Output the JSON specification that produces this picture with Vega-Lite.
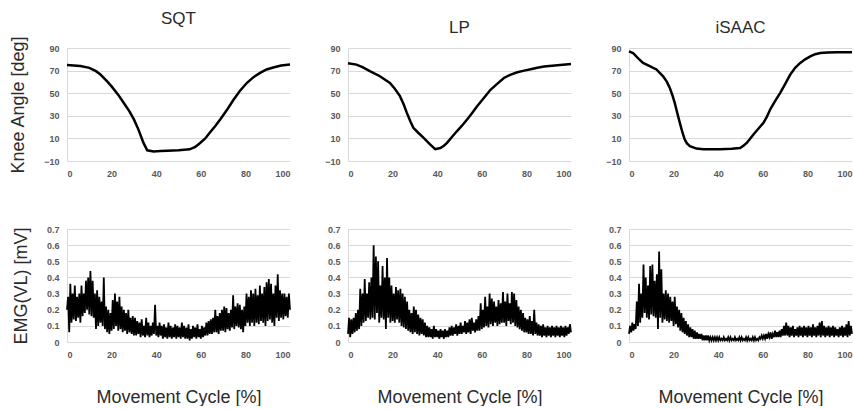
{
"$schema":"https://vega.github.io/schema/vega-lite/v6.json",
"padding":{"left":9,"top":10,"right":0,"bottom":0},
"background":"white",
"config":{
 "view":{"stroke":null},
 "axis":{"labelFont":"Liberation Sans","labelFontWeight":"bold","labelFontSize":9,"labelColor":"#595959","ticks":false,"gridColor":"#d9d9d9","gridWidth":1,"domain":false,"titleFont":"Liberation Sans","titleFontWeight":"normal","titleFontSize":18,"titleColor":"#2b2b2b"},
 "axisY":{"domain":true,"domainColor":"#d9d9d9","labelPadding":8,"titlePadding":16},
 "axisX":{"grid":false,"labelPadding":8,"titlePadding":29},
 "title":{"font":"Liberation Sans","fontSize":17,"fontWeight":"normal","color":"#2b2b2b","offset":7,"anchor":"middle"}
},
"datasets":{
"sqt_k":[{"x":0,"y":75},{"x":3,"y":74.5},{"x":6,"y":74},{"x":10,"y":72.4},{"x":13,"y":69.5},{"x":15,"y":66.5},{"x":18,"y":60.5},{"x":20,"y":56},{"x":23,"y":48.5},{"x":25.4,"y":41.5},{"x":28,"y":34},{"x":30,"y":26.8},{"x":32,"y":18},{"x":34.3,"y":6},{"x":36,"y":-0.5},{"x":38.8,"y":-1.5},{"x":42,"y":-1.2},{"x":45,"y":-1},{"x":50,"y":-0.5},{"x":55,"y":0.3},{"x":57.5,"y":2.5},{"x":59.7,"y":6},{"x":62,"y":10},{"x":64,"y":15},{"x":66.5,"y":21},{"x":68.7,"y":26.8},{"x":72,"y":36},{"x":74.6,"y":44},{"x":77.5,"y":52},{"x":80.6,"y":59},{"x":83.5,"y":64},{"x":86.6,"y":68},{"x":89.5,"y":71},{"x":92.5,"y":72.8},{"x":96,"y":74.5},{"x":100,"y":75.5}],
"lp_k":[{"x":0,"y":76.5},{"x":3.8,"y":75.3},{"x":6.5,"y":73},{"x":9.8,"y":69.5},{"x":14.3,"y":65},{"x":18.8,"y":59},{"x":21,"y":54},{"x":23.3,"y":47.4},{"x":25,"y":40},{"x":26.3,"y":33},{"x":28,"y":25},{"x":29.3,"y":19.4},{"x":31.5,"y":15},{"x":33.8,"y":10.6},{"x":36.8,"y":4.7},{"x":39.1,"y":0.5},{"x":41.4,"y":1.5},{"x":43,"y":3.5},{"x":44.4,"y":6},{"x":46.5,"y":11},{"x":48.9,"y":16.5},{"x":51,"y":21},{"x":53.4,"y":26.8},{"x":55.5,"y":32},{"x":57.9,"y":38.5},{"x":61,"y":46},{"x":63.9,"y":53},{"x":67,"y":58.5},{"x":69.9,"y":63.5},{"x":73,"y":66.5},{"x":75.9,"y":68.5},{"x":79,"y":70},{"x":81.9,"y":71.2},{"x":84.9,"y":72.5},{"x":87.9,"y":73.6},{"x":93.9,"y":74.8},{"x":100,"y":75.8}],
"is_k":[{"x":0,"y":87},{"x":1.8,"y":85.6},{"x":4,"y":81},{"x":6.3,"y":76.8},{"x":9.3,"y":74},{"x":12.3,"y":71},{"x":15.3,"y":65},{"x":17,"y":60},{"x":18.3,"y":54.7},{"x":19.5,"y":48},{"x":20.5,"y":41.5},{"x":21.7,"y":32},{"x":22.8,"y":23.8},{"x":24,"y":15},{"x":25,"y":9},{"x":26,"y":5.5},{"x":27.3,"y":3.2},{"x":30.3,"y":1},{"x":33.3,"y":0.3},{"x":40.8,"y":0.3},{"x":46,"y":0.8},{"x":49.8,"y":1.5},{"x":51.3,"y":3.5},{"x":52.8,"y":6},{"x":55.8,"y":13.5},{"x":58,"y":18.5},{"x":60.3,"y":23.8},{"x":61.8,"y":29},{"x":63.3,"y":35.6},{"x":65.5,"y":43},{"x":67.8,"y":50.3},{"x":70,"y":58},{"x":72.3,"y":66.5},{"x":74.5,"y":72.5},{"x":76.8,"y":76.8},{"x":79,"y":80},{"x":81.3,"y":82.6},{"x":83.5,"y":84.5},{"x":85.8,"y":85.6},{"x":89,"y":86},{"x":93.3,"y":86.2},{"x":100,"y":86.2}],
"sqt_e":[{"x":0,"y":0.2},{"x":0.5,"y":0.28},{"x":1,"y":0.06},{"x":1.5,"y":0.36},{"x":2,"y":0.12},{"x":2.5,"y":0.3},{"x":3,"y":0.14},{"x":3.5,"y":0.35},{"x":4,"y":0.13},{"x":4.5,"y":0.28},{"x":5,"y":0.15},{"x":5.5,"y":0.3},{"x":6,"y":0.12},{"x":6.5,"y":0.35},{"x":7,"y":0.16},{"x":7.5,"y":0.3},{"x":8,"y":0.18},{"x":8.5,"y":0.38},{"x":9,"y":0.2},{"x":9.5,"y":0.4},{"x":10,"y":0.17},
{"x":10.5,"y":0.44},{"x":11,"y":0.16},{"x":11.5,"y":0.38},{"x":12,"y":0.15},{"x":12.5,"y":0.3},{"x":13,"y":0.08},{"x":13.5,"y":0.32},{"x":14,"y":0.1},{"x":14.5,"y":0.28},{"x":15,"y":0.12},{"x":15.5,"y":0.25},{"x":16,"y":0.1},{"x":16.5,"y":0.4},{"x":17,"y":0.08},{"x":17.5,"y":0.22},{"x":18,"y":0.06},{"x":18.5,"y":0.2},{"x":19,"y":0.05},{"x":19.5,"y":0.18},{"x":20,"y":0.07},
{"x":20.5,"y":0.26},{"x":21,"y":0.08},{"x":21.5,"y":0.3},{"x":22,"y":0.1},{"x":22.5,"y":0.25},{"x":23,"y":0.07},{"x":23.5,"y":0.28},{"x":24,"y":0.08},{"x":24.5,"y":0.22},{"x":25,"y":0.06},{"x":25.5,"y":0.2},{"x":26,"y":0.07},{"x":26.5,"y":0.18},{"x":27,"y":0.05},{"x":27.5,"y":0.2},{"x":28,"y":0.06},{"x":28.5,"y":0.15},{"x":29,"y":0.05},{"x":29.5,"y":0.16},{"x":30,"y":0.04},
{"x":30.5,"y":0.15},{"x":31,"y":0.04},{"x":31.5,"y":0.13},{"x":32,"y":0.05},{"x":32.5,"y":0.12},{"x":33,"y":0.03},{"x":33.5,"y":0.14},{"x":34,"y":0.04},{"x":34.5,"y":0.1},{"x":35,"y":0.03},{"x":35.5,"y":0.15},{"x":36,"y":0.04},{"x":36.5,"y":0.12},{"x":37,"y":0.03},{"x":37.5,"y":0.1},{"x":38,"y":0.04},{"x":38.5,"y":0.12},{"x":39,"y":0.05},{"x":39.5,"y":0.23},{"x":40,"y":0.04},
{"x":40.5,"y":0.1},{"x":41,"y":0.03},{"x":41.5,"y":0.12},{"x":42,"y":0.04},{"x":42.5,"y":0.1},{"x":43,"y":0.02},{"x":43.5,"y":0.11},{"x":44,"y":0.03},{"x":44.5,"y":0.09},{"x":45,"y":0.02},{"x":45.5,"y":0.12},{"x":46,"y":0.03},{"x":46.5,"y":0.1},{"x":47,"y":0.02},{"x":47.5,"y":0.09},{"x":48,"y":0.03},{"x":48.5,"y":0.11},{"x":49,"y":0.02},{"x":49.5,"y":0.1},{"x":50,"y":0.03},
{"x":50.5,"y":0.09},{"x":51,"y":0.02},{"x":51.5,"y":0.12},{"x":52,"y":0.03},{"x":52.5,"y":0.1},{"x":53,"y":0.02},{"x":53.5,"y":0.09},{"x":54,"y":0.02},{"x":54.5,"y":0.11},{"x":55,"y":0.01},{"x":55.5,"y":0.08},{"x":56,"y":0.02},{"x":56.5,"y":0.1},{"x":57,"y":0.03},{"x":57.5,"y":0.09},{"x":58,"y":0.02},{"x":58.5,"y":0.11},{"x":59,"y":0.03},{"x":59.5,"y":0.08},{"x":60,"y":0.02},
{"x":60.5,"y":0.1},{"x":61,"y":0.03},{"x":61.5,"y":0.09},{"x":62,"y":0.04},{"x":62.5,"y":0.12},{"x":63,"y":0.04},{"x":63.5,"y":0.13},{"x":64,"y":0.05},{"x":64.5,"y":0.14},{"x":65,"y":0.05},{"x":65.5,"y":0.15},{"x":66,"y":0.06},{"x":66.5,"y":0.2},{"x":67,"y":0.06},{"x":67.5,"y":0.16},{"x":68,"y":0.05},{"x":68.5,"y":0.18},{"x":69,"y":0.07},{"x":69.5,"y":0.2},{"x":70,"y":0.07},
{"x":70.5,"y":0.22},{"x":71,"y":0.06},{"x":71.5,"y":0.21},{"x":72,"y":0.08},{"x":72.5,"y":0.18},{"x":73,"y":0.07},{"x":73.5,"y":0.2},{"x":74,"y":0.09},{"x":74.5,"y":0.29},{"x":75,"y":0.08},{"x":75.5,"y":0.22},{"x":76,"y":0.1},{"x":76.5,"y":0.24},{"x":77,"y":0.09},{"x":77.5,"y":0.23},{"x":78,"y":0.08},{"x":78.5,"y":0.2},{"x":79,"y":0.06},{"x":79.5,"y":0.22},{"x":80,"y":0.1},
{"x":80.5,"y":0.3},{"x":81,"y":0.12},{"x":81.5,"y":0.28},{"x":82,"y":0.1},{"x":82.5,"y":0.32},{"x":83,"y":0.12},{"x":83.5,"y":0.3},{"x":84,"y":0.1},{"x":84.5,"y":0.33},{"x":85,"y":0.12},{"x":85.5,"y":0.29},{"x":86,"y":0.11},{"x":86.5,"y":0.35},{"x":87,"y":0.13},{"x":87.5,"y":0.3},{"x":88,"y":0.12},{"x":88.5,"y":0.34},{"x":89,"y":0.1},{"x":89.5,"y":0.37},{"x":90,"y":0.13},
{"x":90.5,"y":0.39},{"x":91,"y":0.14},{"x":91.5,"y":0.36},{"x":92,"y":0.12},{"x":92.5,"y":0.3},{"x":93,"y":0.1},{"x":93.5,"y":0.35},{"x":94,"y":0.15},{"x":94.5,"y":0.42},{"x":95,"y":0.13},{"x":95.5,"y":0.32},{"x":96,"y":0.15},{"x":96.5,"y":0.3},{"x":97,"y":0.14},{"x":97.5,"y":0.3},{"x":98,"y":0.16},{"x":98.5,"y":0.28},{"x":99,"y":0.15},{"x":99.5,"y":0.3},{"x":100,"y":0.2}],
"lp_e":[{"x":0,"y":0.05},{"x":0.5,"y":0.15},{"x":1,"y":0.03},{"x":1.5,"y":0.14},{"x":2,"y":0.05},{"x":2.5,"y":0.15},{"x":3,"y":0.06},{"x":3.5,"y":0.18},{"x":4,"y":0.07},{"x":4.5,"y":0.2},{"x":5,"y":0.08},{"x":5.5,"y":0.33},{"x":6,"y":0.1},{"x":6.5,"y":0.3},{"x":7,"y":0.12},{"x":7.5,"y":0.39},{"x":8,"y":0.13},{"x":8.5,"y":0.3},{"x":9,"y":0.15},{"x":9.5,"y":0.37},{"x":10,"y":0.14},
{"x":10.5,"y":0.4},{"x":11,"y":0.15},{"x":11.5,"y":0.6},{"x":12,"y":0.14},{"x":12.5,"y":0.53},{"x":13,"y":0.18},{"x":13.5,"y":0.5},{"x":14,"y":0.12},{"x":14.5,"y":0.35},{"x":15,"y":0.15},{"x":15.5,"y":0.47},{"x":16,"y":0.14},{"x":16.5,"y":0.4},{"x":17,"y":0.08},{"x":17.5,"y":0.52},{"x":18,"y":0.15},{"x":18.5,"y":0.4},{"x":19,"y":0.12},{"x":19.5,"y":0.35},{"x":20,"y":0.13},
{"x":20.5,"y":0.3},{"x":21,"y":0.12},{"x":21.5,"y":0.34},{"x":22,"y":0.14},{"x":22.5,"y":0.32},{"x":23,"y":0.12},{"x":23.5,"y":0.33},{"x":24,"y":0.1},{"x":24.5,"y":0.3},{"x":25,"y":0.09},{"x":25.5,"y":0.28},{"x":26,"y":0.08},{"x":26.5,"y":0.25},{"x":27,"y":0.07},{"x":27.5,"y":0.2},{"x":28,"y":0.06},{"x":28.5,"y":0.18},{"x":29,"y":0.05},{"x":29.5,"y":0.22},{"x":30,"y":0.06},
{"x":30.5,"y":0.2},{"x":31,"y":0.05},{"x":31.5,"y":0.17},{"x":32,"y":0.04},{"x":32.5,"y":0.15},{"x":33,"y":0.05},{"x":33.5,"y":0.14},{"x":34,"y":0.04},{"x":34.5,"y":0.12},{"x":35,"y":0.03},{"x":35.5,"y":0.1},{"x":36,"y":0.03},{"x":36.5,"y":0.09},{"x":37,"y":0.03},{"x":37.5,"y":0.08},{"x":38,"y":0.02},{"x":38.5,"y":0.1},{"x":39,"y":0.03},{"x":39.5,"y":0.08},{"x":40,"y":0.03},
{"x":40.5,"y":0.07},{"x":41,"y":0.02},{"x":41.5,"y":0.08},{"x":42,"y":0.03},{"x":42.5,"y":0.07},{"x":43,"y":0.02},{"x":43.5,"y":0.08},{"x":44,"y":0.03},{"x":44.5,"y":0.07},{"x":45,"y":0.03},{"x":45.5,"y":0.09},{"x":46,"y":0.04},{"x":46.5,"y":0.1},{"x":47,"y":0.04},{"x":47.5,"y":0.09},{"x":48,"y":0.05},{"x":48.5,"y":0.11},{"x":49,"y":0.04},{"x":49.5,"y":0.1},{"x":50,"y":0.05},
{"x":50.5,"y":0.12},{"x":51,"y":0.05},{"x":51.5,"y":0.1},{"x":52,"y":0.06},{"x":52.5,"y":0.13},{"x":53,"y":0.05},{"x":53.5,"y":0.12},{"x":54,"y":0.06},{"x":54.5,"y":0.14},{"x":55,"y":0.05},{"x":55.5,"y":0.15},{"x":56,"y":0.07},{"x":56.5,"y":0.12},{"x":57,"y":0.06},{"x":57.5,"y":0.14},{"x":58,"y":0.07},{"x":58.5,"y":0.16},{"x":59,"y":0.07},{"x":59.5,"y":0.24},{"x":60,"y":0.08},
{"x":60.5,"y":0.2},{"x":61,"y":0.09},{"x":61.5,"y":0.28},{"x":62,"y":0.1},{"x":62.5,"y":0.22},{"x":63,"y":0.09},{"x":63.5,"y":0.3},{"x":64,"y":0.11},{"x":64.5,"y":0.27},{"x":65,"y":0.1},{"x":65.5,"y":0.25},{"x":66,"y":0.12},{"x":66.5,"y":0.22},{"x":67,"y":0.1},{"x":67.5,"y":0.26},{"x":68,"y":0.11},{"x":68.5,"y":0.24},{"x":69,"y":0.12},{"x":69.5,"y":0.31},{"x":70,"y":0.12},
{"x":70.5,"y":0.25},{"x":71,"y":0.1},{"x":71.5,"y":0.3},{"x":72,"y":0.13},{"x":72.5,"y":0.24},{"x":73,"y":0.11},{"x":73.5,"y":0.31},{"x":74,"y":0.12},{"x":74.5,"y":0.3},{"x":75,"y":0.1},{"x":75.5,"y":0.26},{"x":76,"y":0.09},{"x":76.5,"y":0.22},{"x":77,"y":0.08},{"x":77.5,"y":0.2},{"x":78,"y":0.07},{"x":78.5,"y":0.18},{"x":79,"y":0.06},{"x":79.5,"y":0.15},{"x":80,"y":0.06},
{"x":80.5,"y":0.14},{"x":81,"y":0.05},{"x":81.5,"y":0.16},{"x":82,"y":0.05},{"x":82.5,"y":0.13},{"x":83,"y":0.04},{"x":83.5,"y":0.2},{"x":84,"y":0.05},{"x":84.5,"y":0.12},{"x":85,"y":0.04},{"x":85.5,"y":0.11},{"x":86,"y":0.04},{"x":86.5,"y":0.1},{"x":87,"y":0.03},{"x":87.5,"y":0.11},{"x":88,"y":0.04},{"x":88.5,"y":0.09},{"x":89,"y":0.03},{"x":89.5,"y":0.1},{"x":90,"y":0.04},
{"x":90.5,"y":0.09},{"x":91,"y":0.03},{"x":91.5,"y":0.1},{"x":92,"y":0.04},{"x":92.5,"y":0.09},{"x":93,"y":0.03},{"x":93.5,"y":0.1},{"x":94,"y":0.04},{"x":94.5,"y":0.09},{"x":95,"y":0.03},{"x":95.5,"y":0.1},{"x":96,"y":0.04},{"x":96.5,"y":0.09},{"x":97,"y":0.03},{"x":97.5,"y":0.1},{"x":98,"y":0.04},{"x":98.5,"y":0.09},{"x":99,"y":0.05},{"x":99.5,"y":0.11},{"x":100,"y":0.06}],
"is_e":[{"x":0,"y":0.05},{"x":0.5,"y":0.1},{"x":1,"y":0.06},{"x":1.5,"y":0.12},{"x":2,"y":0.07},{"x":2.5,"y":0.11},{"x":3,"y":0.08},{"x":3.5,"y":0.25},{"x":4,"y":0.1},{"x":4.5,"y":0.36},{"x":5,"y":0.12},{"x":5.5,"y":0.3},{"x":6,"y":0.15},{"x":6.5,"y":0.48},{"x":7,"y":0.18},{"x":7.5,"y":0.4},{"x":8,"y":0.15},{"x":8.5,"y":0.35},{"x":9,"y":0.14},{"x":9.5,"y":0.47},{"x":10,"y":0.17},
{"x":10.5,"y":0.48},{"x":11,"y":0.16},{"x":11.5,"y":0.38},{"x":12,"y":0.15},{"x":12.5,"y":0.42},{"x":13,"y":0.08},{"x":13.5,"y":0.56},{"x":14,"y":0.15},{"x":14.5,"y":0.45},{"x":15,"y":0.12},{"x":15.5,"y":0.3},{"x":16,"y":0.14},{"x":16.5,"y":0.32},{"x":17,"y":0.13},{"x":17.5,"y":0.3},{"x":18,"y":0.12},{"x":18.5,"y":0.28},{"x":19,"y":0.13},{"x":19.5,"y":0.25},{"x":20,"y":0.1},
{"x":20.5,"y":0.28},{"x":21,"y":0.11},{"x":21.5,"y":0.22},{"x":22,"y":0.09},{"x":22.5,"y":0.2},{"x":23,"y":0.07},{"x":23.5,"y":0.18},{"x":24,"y":0.06},{"x":24.5,"y":0.15},{"x":25,"y":0.05},{"x":25.5,"y":0.13},{"x":26,"y":0.04},{"x":26.5,"y":0.11},{"x":27,"y":0.03},{"x":27.5,"y":0.09},{"x":28,"y":0.03},{"x":28.5,"y":0.08},{"x":29,"y":0.02},{"x":29.5,"y":0.07},{"x":30,"y":0.02},
{"x":30.5,"y":0.06},{"x":31,"y":0.02},{"x":31.5,"y":0.05},{"x":32,"y":0.02},{"x":32.5,"y":0.05},{"x":33,"y":0.01},{"x":33.5,"y":0.04},{"x":34,"y":0.01},{"x":34.5,"y":0.04},{"x":35,"y":0.01},{"x":35.5,"y":0.04},{"x":36,"y":0.01},{"x":36.5,"y":0.03},{"x":37,"y":0.01},{"x":37.5,"y":0.03},{"x":38,"y":0.01},{"x":38.5,"y":0.03},{"x":39,"y":0.01},{"x":39.5,"y":0.03},{"x":40,"y":0.01},
{"x":40.5,"y":0.03},{"x":41,"y":0.01},{"x":41.5,"y":0.02},{"x":42,"y":0.01},{"x":42.5,"y":0.03},{"x":43,"y":0.01},{"x":43.5,"y":0.02},{"x":44,"y":0.01},{"x":44.5,"y":0.03},{"x":45,"y":0.01},{"x":45.5,"y":0.03},{"x":46,"y":0.01},{"x":46.5,"y":0.02},{"x":47,"y":0.01},{"x":47.5,"y":0.03},{"x":48,"y":0.01},{"x":48.5,"y":0.02},{"x":49,"y":0.01},{"x":49.5,"y":0.03},{"x":50,"y":0.01},
{"x":50.5,"y":0.03},{"x":51,"y":0.01},{"x":51.5,"y":0.02},{"x":52,"y":0.01},{"x":52.5,"y":0.03},{"x":53,"y":0.01},{"x":53.5,"y":0.03},{"x":54,"y":0.01},{"x":54.5,"y":0.02},{"x":55,"y":0.01},{"x":55.5,"y":0.03},{"x":56,"y":0.01},{"x":56.5,"y":0.03},{"x":57,"y":0.01},{"x":57.5,"y":0.02},{"x":58,"y":0.01},{"x":58.5,"y":0.03},{"x":59,"y":0.02},{"x":59.5,"y":0.04},{"x":60,"y":0.02},
{"x":60.5,"y":0.04},{"x":61,"y":0.02},{"x":61.5,"y":0.05},{"x":62,"y":0.02},{"x":62.5,"y":0.05},{"x":63,"y":0.03},{"x":63.5,"y":0.06},{"x":64,"y":0.02},{"x":64.5,"y":0.05},{"x":65,"y":0.03},{"x":65.5,"y":0.07},{"x":66,"y":0.03},{"x":66.5,"y":0.06},{"x":67,"y":0.03},{"x":67.5,"y":0.07},{"x":68,"y":0.03},{"x":68.5,"y":0.08},{"x":69,"y":0.04},{"x":69.5,"y":0.1},{"x":70,"y":0.04},
{"x":70.5,"y":0.12},{"x":71,"y":0.04},{"x":71.5,"y":0.1},{"x":72,"y":0.03},{"x":72.5,"y":0.09},{"x":73,"y":0.04},{"x":73.5,"y":0.1},{"x":74,"y":0.03},{"x":74.5,"y":0.08},{"x":75,"y":0.04},{"x":75.5,"y":0.09},{"x":76,"y":0.03},{"x":76.5,"y":0.1},{"x":77,"y":0.04},{"x":77.5,"y":0.09},{"x":78,"y":0.03},{"x":78.5,"y":0.1},{"x":79,"y":0.04},{"x":79.5,"y":0.09},{"x":80,"y":0.03},
{"x":80.5,"y":0.1},{"x":81,"y":0.04},{"x":81.5,"y":0.09},{"x":82,"y":0.03},{"x":82.5,"y":0.11},{"x":83,"y":0.04},{"x":83.5,"y":0.09},{"x":84,"y":0.03},{"x":84.5,"y":0.1},{"x":85,"y":0.04},{"x":85.5,"y":0.12},{"x":86,"y":0.03},{"x":86.5,"y":0.13},{"x":87,"y":0.04},{"x":87.5,"y":0.1},{"x":88,"y":0.03},{"x":88.5,"y":0.09},{"x":89,"y":0.04},{"x":89.5,"y":0.1},{"x":90,"y":0.03},
{"x":90.5,"y":0.09},{"x":91,"y":0.04},{"x":91.5,"y":0.1},{"x":92,"y":0.03},{"x":92.5,"y":0.09},{"x":93,"y":0.04},{"x":93.5,"y":0.08},{"x":94,"y":0.03},{"x":94.5,"y":0.09},{"x":95,"y":0.04},{"x":95.5,"y":0.1},{"x":96,"y":0.03},{"x":96.5,"y":0.09},{"x":97,"y":0.04},{"x":97.5,"y":0.11},{"x":98,"y":0.03},{"x":98.5,"y":0.13},{"x":99,"y":0.04},{"x":99.5,"y":0.1},{"x":100,"y":0.05}]
},
"columns":3,
"spacing":{"row":68,"column":58},
"bounds":"flush",
"concat":[
  {"width":223,"height":113,"title":"SQT","data":{"name":"sqt_k"},"mark":{"type":"line","color":"black","strokeWidth":2.5},
   "encoding":{"x":{"field":"x","type":"quantitative","scale":{"domain":[0,100]},"axis":{"values":[0,20,40,60,80,100],"title":null}},
    "y":{"field":"y","type":"quantitative","scale":{"domain":[-10,90]},"axis":{"values":[-10,10,30,50,70,90],"title":"Knee Angle [deg]"}}}},
  {"width":223,"height":113,"title":"LP","data":{"name":"lp_k"},"mark":{"type":"line","color":"black","strokeWidth":2.5},
   "encoding":{"x":{"field":"x","type":"quantitative","scale":{"domain":[0,100]},"axis":{"values":[0,20,40,60,80,100],"title":null}},
    "y":{"field":"y","type":"quantitative","scale":{"domain":[-10,90]},"axis":{"values":[-10,10,30,50,70,90],"title":null}}}},
  {"width":223,"height":113,"title":"iSAAC","data":{"name":"is_k"},"mark":{"type":"line","color":"black","strokeWidth":2.5},
   "encoding":{"x":{"field":"x","type":"quantitative","scale":{"domain":[0,100]},"axis":{"values":[0,20,40,60,80,100],"title":null}},
    "y":{"field":"y","type":"quantitative","scale":{"domain":[-10,90]},"axis":{"values":[-10,10,30,50,70,90],"title":null}}}},
  {"width":223,"height":113,"data":{"name":"sqt_e"},"mark":{"type":"line","color":"black","strokeWidth":1.8},
   "encoding":{"x":{"field":"x","type":"quantitative","scale":{"domain":[0,100]},"axis":{"values":[0,20,40,60,80,100],"title":"Movement Cycle [%]"}},
    "y":{"field":"y","type":"quantitative","scale":{"domain":[0,0.7]},"axis":{"values":[0,0.1,0.2,0.3,0.4,0.5,0.6,0.7],"format":".1~f","title":"EMG(VL) [mV]"}}}},
  {"width":223,"height":113,"data":{"name":"lp_e"},"mark":{"type":"line","color":"black","strokeWidth":1.8},
   "encoding":{"x":{"field":"x","type":"quantitative","scale":{"domain":[0,100]},"axis":{"values":[0,20,40,60,80,100],"title":"Movement Cycle [%]"}},
    "y":{"field":"y","type":"quantitative","scale":{"domain":[0,0.7]},"axis":{"values":[0,0.1,0.2,0.3,0.4,0.5,0.6,0.7],"format":".1~f","title":null}}}},
  {"width":223,"height":113,"data":{"name":"is_e"},"mark":{"type":"line","color":"black","strokeWidth":1.8},
   "encoding":{"x":{"field":"x","type":"quantitative","scale":{"domain":[0,100]},"axis":{"values":[0,20,40,60,80,100],"title":"Movement Cycle [%]"}},
    "y":{"field":"y","type":"quantitative","scale":{"domain":[0,0.7]},"axis":{"values":[0,0.1,0.2,0.3,0.4,0.5,0.6,0.7],"format":".1~f","title":null}}}}
]
}
